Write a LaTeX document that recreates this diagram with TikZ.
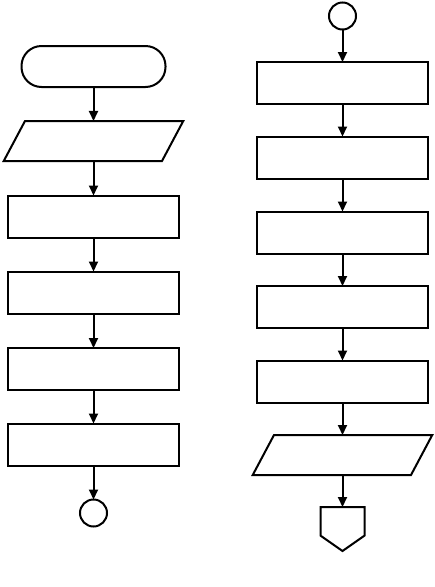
\documentclass[tikz,border=0pt]{standalone}
\usepackage{tikz}
\usetikzlibrary{arrows.meta,shapes.geometric,shapes.symbols}

\tikzset{
  procbox/.style={draw,rectangle,minimum width=171pt,minimum height=42pt,
    inner sep=0pt,outer sep=0pt},
  termbox/.style={draw,rectangle,rounded corners=20pt,minimum width=144pt,
    minimum height=41pt,inner sep=0pt,outer sep=0pt},
  iobox/.style={draw,trapezium,trapezium left angle=62,trapezium right angle=118,
    inner xsep=68.5pt,inner ysep=20pt,outer sep=0pt},
  connbox/.style={draw,circle,minimum size=27pt,inner sep=0pt,outer sep=0pt},
  pagebox/.style={draw,signal,signal to=south,signal from=nowhere,
    signal pointer angle=110,minimum width=44pt,minimum height=30pt,
    inner sep=2pt,outer sep=0pt},
  flow/.style={-{Triangle[length=10pt,width=9pt]}}
}

\begin{document}
\begin{tikzpicture}[x=1pt,y=-1pt,line width=2pt]
  \path[use as bounding box] (0,0) rectangle (435,587);

  % left column
  \node[termbox] (term) at (93.5,66.5) {};
  \node[iobox] (io1) at (93.5,141) {};
  \node[procbox] (p1) at (93.5,216.5) {};
  \node[procbox] (p2) at (93.5,292.5) {};
  \node[procbox] (p3) at (93.5,369) {};
  \node[procbox] (p4) at (93.5,444.5) {};
  \node[connbox] (con1) at (93.5,513) {};

  % right column
  \node[connbox] (con2) at (342.5,16) {};
  \node[procbox] (q1) at (342.5,83) {};
  \node[procbox] (q2) at (342.5,157.5) {};
  \node[procbox] (q3) at (342.5,232.5) {};
  \node[procbox] (q4) at (342.5,307) {};
  \node[procbox] (q5) at (342.5,381.5) {};
  \node[iobox] (io2) at (342.5,455) {};
  \node[pagebox,anchor=north] (off) at (342.5,507) {};

  \foreach \a/\b in {term/io1,io1/p1,p1/p2,p2/p3,p3/p4,p4/con1,
                     con2/q1,q1/q2,q2/q3,q3/q4,q4/q5,q5/io2}
    \draw[flow] (\a) -- (\b);
  \draw[flow] (io2.south) -- (off.north);
\end{tikzpicture}
\end{document}
